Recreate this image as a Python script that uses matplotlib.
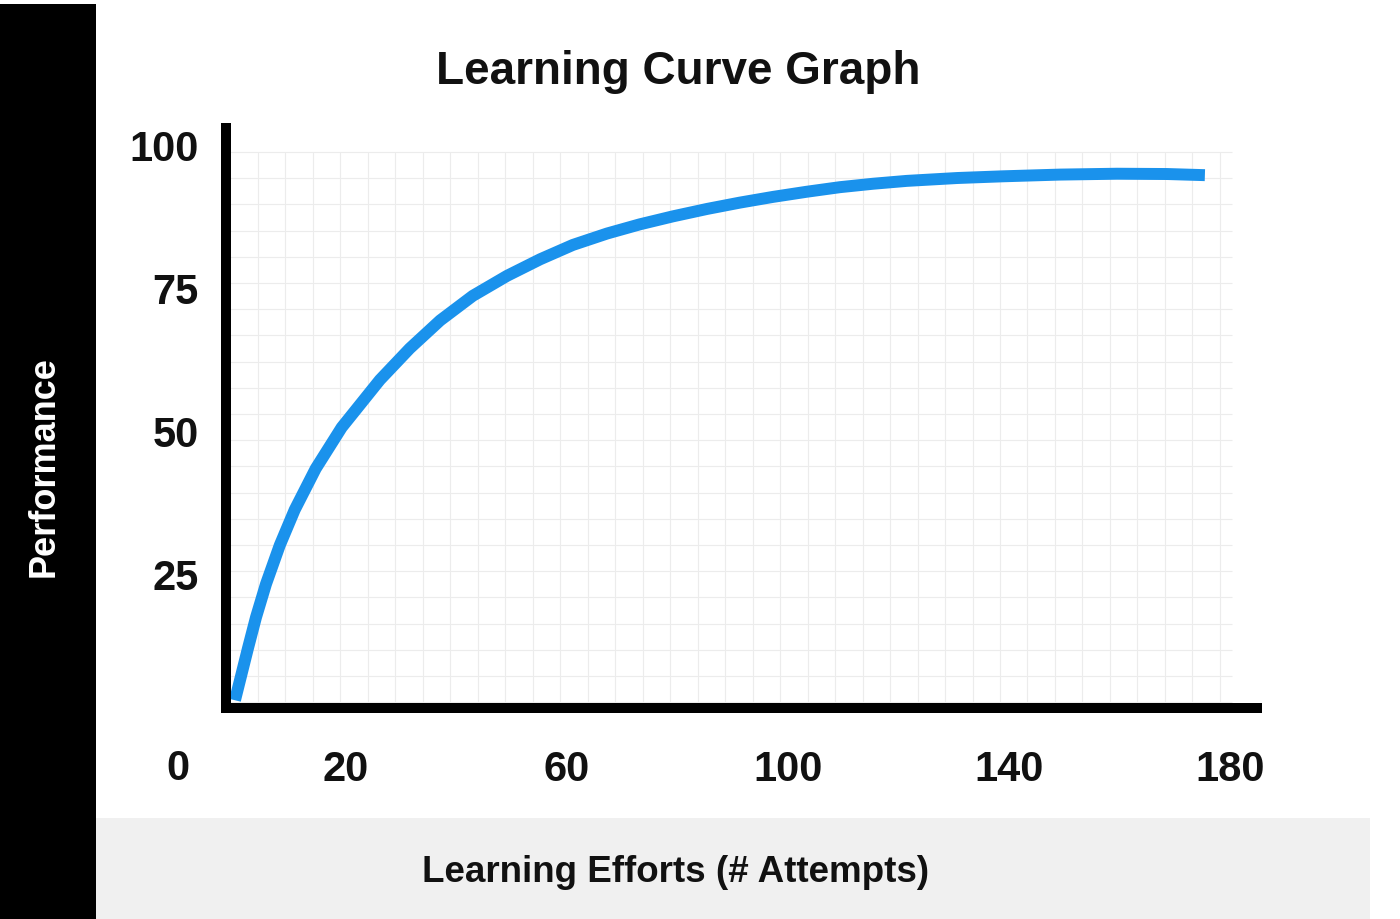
import matplotlib.pyplot as plt
from matplotlib.patches import Rectangle
import numpy as np

# Curva de aprendizagem
attempts = [0, 2.35, 3.8, 5.6, 8.1, 10.8, 14.6, 19.3, 26.2, 31.6, 37.1, 43.0,
            49.2, 55.2, 61.1, 67.3, 73.2, 79.2, 85.4, 91.3, 97.3, 103.4, 109.4,
            115.4, 121.5, 130.6, 138.9, 149.2, 159.5, 168.5, 175.4]
performance = [3.1, 12.2, 17.6, 23.4, 30.2, 36.4, 43.6, 50.8, 59.1, 64.6, 69.5,
               73.8, 77.3, 80.2, 82.7, 84.7, 86.3, 87.7, 89.0, 90.1, 91.1, 92.0,
               92.8, 93.4, 93.9, 94.4, 94.7, 95.0, 95.15, 95.1, 94.9]

y_ticks = [25, 50, 75, 100]
x_ticks = [20, 60, 100, 140, 180]
x_tick_labels = ["20", "60", "100", "140", "180"]

title = "Learning Curve Graph"
x_label = "Learning Efforts (# Attempts)"
y_label = "Performance"

W, H = 1400, 919
fig = plt.figure(figsize=(W / 100, H / 100), dpi=100)
fig.patch.set_facecolor("white")

# Faixas de fundo
fig.patches.append(Rectangle((0, 0), 96 / W, 1 - 4 / H, transform=fig.transFigure,
                             facecolor="black", edgecolor="none", zorder=0))
fig.patches.append(Rectangle((96 / W, 0), (1370 - 96) / W, (H - 818) / H,
                             transform=fig.transFigure, facecolor="#f0f0f0",
                             edgecolor="none", zorder=0))

ax = fig.add_axes([150 / W, 1 - 740 / H, 1150 / W, 640 / H])
ax.set_xlim(-15.37, 192.6)
ax.set_ylim(-3.85, 108.04)
ax.patch.set_alpha(0)
for s in ax.spines.values():
    s.set_visible(False)

# Grade fina
grid_x = 4.16 + 4.97 * np.arange(36)
grid_y = 98.95 - 4.58 * np.arange(22)
ax.vlines(grid_x, 1.75, 98.95, color="#ececec", lw=0.8, zorder=1)
ax.hlines(grid_y, -1.63, 180.3, color="#ececec", lw=0.8, zorder=1)

# Eixos
ax.plot([-1.63, -1.63], [0.87, 104.0], color="black", lw=7.2,
        solid_capstyle="butt", zorder=4)
ax.plot([-2.53, 185.7], [1.75, 1.75], color="black", lw=7.2,
        solid_capstyle="butt", zorder=4)

ax.plot(attempts, performance, color="#1a92ec", lw=8.6,
        solid_capstyle="butt", solid_joinstyle="round", zorder=3)

font = "Liberation Sans"
ax.set_yticks(y_ticks)
ax.set_yticklabels([str(v) for v in y_ticks], fontsize=30, fontweight="bold",
                   family=font, color="#111111")
ax.set_xticks(x_ticks)
ax.set_xticklabels(x_tick_labels, fontsize=30, fontweight="bold",
                   family=font, color="#111111")
ax.tick_params(axis="y", length=0, pad=-35)
ax.tick_params(axis="x", length=0, pad=7)
ax.text(-10.3, -9.0, "0", ha="center", va="center", fontsize=30,
        fontweight="bold", family=font, color="#111111")

fig.text(678 / W, 1 - 72 / H, title, ha="center", va="center", fontsize=33,
         fontweight="bold", family=font, color="#111111")
fig.text(676 / W, 1 - 872 / H, x_label, ha="center", va="center", fontsize=26.5,
         fontweight="bold", family=font, color="#111111")
fig.text(44 / W, 1 - 467 / H, y_label, ha="center", va="center", fontsize=26,
         fontweight="bold", family=font, color="white", rotation=90)

fig.savefig("out.png", dpi=100)
